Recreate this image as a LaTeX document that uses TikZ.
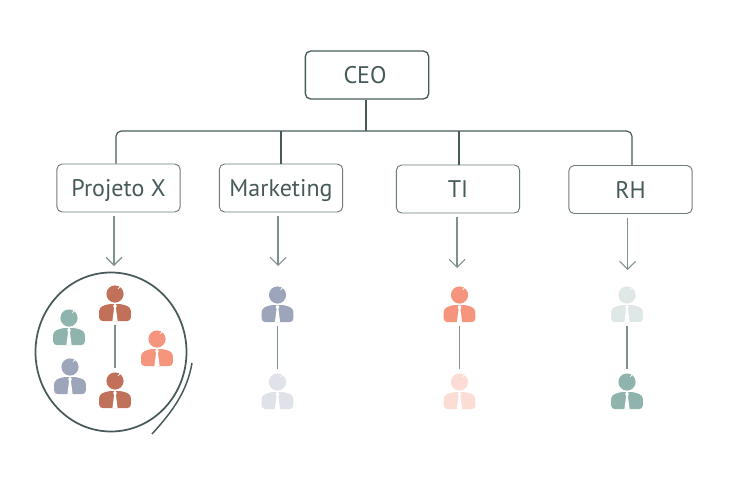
\documentclass[tikz,border=0pt]{standalone}
\usepackage{fontspec}
\setmainfont{PT Sans}
\usetikzlibrary{arrows.meta}
\definecolor{traco}{HTML}{465A59}
\definecolor{linha}{HTML}{7F918F}
\definecolor{tijolo}{HTML}{C1705A}
\definecolor{salmao}{HTML}{F5957D}
\definecolor{verde}{HTML}{8FB3AD}
\definecolor{cinza}{HTML}{9CA5BA}
\definecolor{cinzaclaro}{HTML}{E0E2EA}
\definecolor{salmaoclaro}{HTML}{FBDDD5}
\definecolor{verdeclaro}{HTML}{DFE8E6}
\tikzset{
    caixa/.style={draw=traco!80, line width=.7pt, rounded corners=4pt, text=traco,
        minimum width=92.5pt, minimum height=36pt, inner sep=0pt, text depth=0pt,
        font=\fontsize{18}{20}\selectfont},
    pics/pessoa/.style={code={
        \fill[#1, rounded corners=2.5pt] (-15.8,27) -- (-15.8,13.5) -- (-7,10) -- (7,10) -- (15.8,13.5) -- (15.8,27) -- cycle;
        \fill[white] (0,0) circle (9.6);
        \fill[#1] (0,0) circle (8.6);
        \draw[white, line width=.5pt] (3,-5.2) arc (60:10:6);
        \fill[white] (0,9) -- (1.8,12) -- (.9,14) -- (2.6,27) -- (-2.6,27) -- (-.9,14) -- (-1.8,12) -- cycle;
        \coordinate (-cima) at (0,31);
        \coordinate (-baixo) at (0,-13);
    }}
}
\begin{document}
\begin{tikzpicture}[x=.75pt, y=-.75pt, >={Straight Barb[length=6pt,width=12pt]}]
\useasboundingbox (0,0) rectangle (737,496);

\node[caixa, line width=1pt, draw=traco] (ceo) at (367,75) {\hspace*{-3pt}CEO};
\node[caixa] (projeto) at (118.5,188) {Projeto X};
\node[caixa] (marketing) at (281,188) {Marketing};
\node[caixa] (ti) at (458,189) {TI};
\node[caixa] (rh) at (630.5,189.5) {RH};

% barramento
\coordinate (barra) at (366,131);
\draw[traco, line width=.9pt] (ceo.south -| barra) -- (barra);
\draw[traco, line width=.9pt, rounded corners=4pt] (projeto.north -| 116,0) -- (116,131) -- (632,131) -- (rh.north -| 632,0);
\draw[traco, line width=.8pt] (marketing.north) -- (marketing.north |- barra);
\draw[traco, line width=.8pt] (ti.north -| 459,0) -- (459,131);

% setas
\foreach \caixa/\x/\y in {projeto/114/266, marketing/278/266, ti/457/268, rh/627.5/270}
{
    \coordinate (s\caixa) at (\x,\y);
    \draw[->, linha, line width=.8pt, shorten <=3pt] (\caixa.south -| s\caixa) -- (s\caixa);
}

% pessoas
\pic (a) at (115,294) {pessoa=tijolo};
\pic (b) at (115,381) {pessoa=tijolo};
\pic at (69,318) {pessoa=verde};
\pic at (157,339) {pessoa=salmao};
\pic at (70,367) {pessoa=cinza};
\pic (c) at (277.5,295) {pessoa=cinza};
\pic (d) at (277.5,382) {pessoa=cinzaclaro};
\pic (e) at (459.5,295) {pessoa=salmao};
\pic (f) at (459.5,382) {pessoa=salmaoclaro};
\pic (g) at (627,295) {pessoa=verdeclaro};
\pic (h) at (627,382) {pessoa=verde};
\foreach \u/\v in {a/b, c/d, e/f, g/h}
{
    \draw[linha, line width=1pt] (\u-cima) -- (\v-baixo);
}

% destaque
\draw[traco, line width=1.3pt] (111,352) ellipse (75.5 and 79.5);
\draw[traco, line width=1.1pt] (192,363) .. controls (187,392) and (172,412) .. (152,434);
\end{tikzpicture}
\end{document}
